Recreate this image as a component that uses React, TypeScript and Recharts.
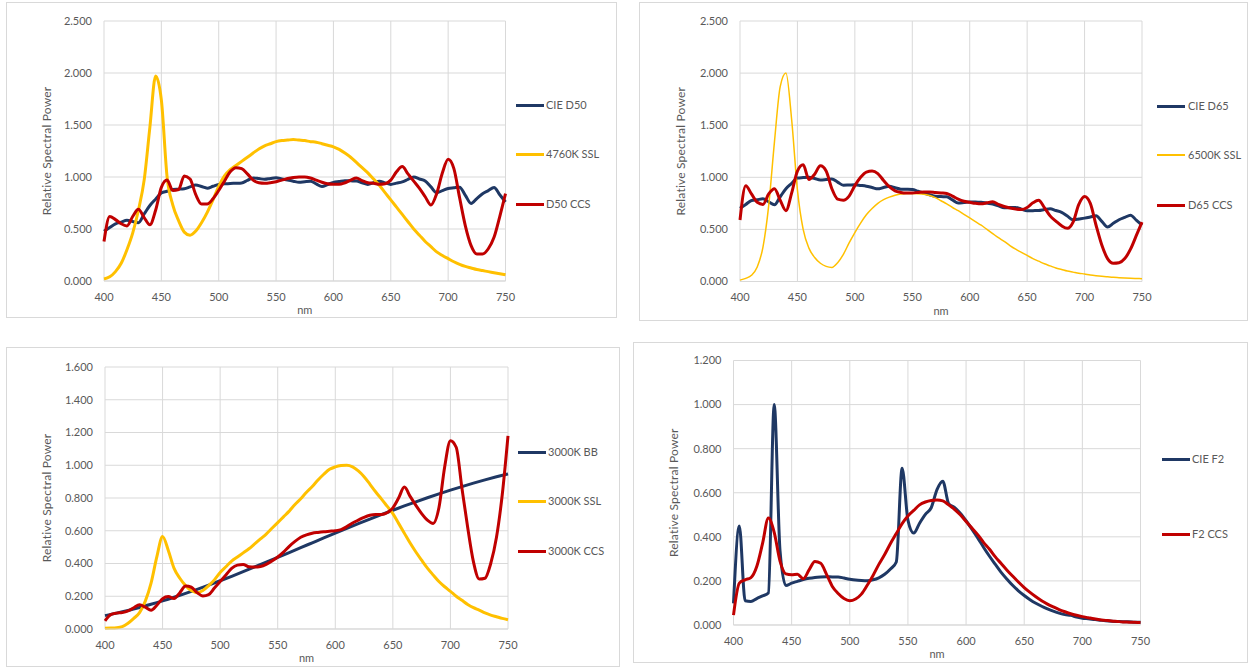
import React from 'react';
import { LineChart, Line, XAxis, YAxis, CartesianGrid } from 'recharts';

// wavelength grid (nm)
const wavelengths = [
  400, 405, 410, 415, 420, 425, 430, 435, 440, 445,
  450, 455, 460, 465, 470, 475, 480, 485, 490, 495,
  500, 505, 510, 515, 520, 525, 530, 535, 540, 545,
  550, 555, 560, 565, 570, 575, 580, 585, 590, 595,
  600, 605, 610, 615, 620, 625, 630, 635, 640, 645,
  650, 655, 660, 665, 670, 675, 680, 685, 690, 695,
  700, 705, 710, 715, 720, 725, 730, 735, 740, 745,
  750,
];
const bbWavelengths = [
  400, 410, 420, 430, 440, 450, 460, 470, 480, 490,
  500, 510, 520, 530, 540, 550, 560, 570, 580, 590,
  600, 610, 620, 630, 640, 650, 660, 670, 680, 690,
  700, 710, 720, 730, 740, 750,
];
const xTicks = [400, 450, 500, 550, 600, 650, 700, 750];

// top left: D50
const cieD50 = [
  0.479, 0.514, 0.549, 0.566, 0.583, 0.572, 0.561, 0.644, 0.726, 0.787,
  0.847, 0.863, 0.88, 0.883, 0.887, 0.905, 0.923, 0.908, 0.893, 0.911,
  0.929, 0.934, 0.938, 0.94, 0.943, 0.967, 0.991, 0.985, 0.978, 0.986,
  0.993, 0.982, 0.971, 0.96, 0.949, 0.955, 0.96, 0.934, 0.908, 0.928,
  0.948, 0.956, 0.964, 0.963, 0.962, 0.945, 0.929, 0.945, 0.96, 0.944,
  0.929, 0.941, 0.953, 0.977, 1.0, 0.981, 0.962, 0.905, 0.848, 0.869,
  0.889, 0.896, 0.902, 0.824, 0.746, 0.793, 0.84, 0.869, 0.899, 0.829,
  0.76,
];
const ssl4760 = [
  0.02, 0.04, 0.09, 0.17, 0.3, 0.46, 0.68, 0.97, 1.48, 1.97,
  1.74, 1.0, 0.73, 0.58, 0.47, 0.44, 0.48, 0.56, 0.66, 0.78,
  0.91, 1.01, 1.07, 1.11, 1.15, 1.19, 1.23, 1.27, 1.3, 1.32,
  1.34, 1.35, 1.355, 1.36, 1.355, 1.35, 1.34, 1.335, 1.32, 1.305,
  1.29, 1.265, 1.23, 1.19, 1.14, 1.09, 1.04, 0.98, 0.92, 0.85,
  0.78, 0.71, 0.64, 0.57, 0.5, 0.44, 0.38, 0.33, 0.28, 0.245,
  0.215, 0.185, 0.16, 0.14, 0.125, 0.11, 0.1, 0.09, 0.08, 0.07,
  0.06,
];
const d50Ccs = [
  0.38, 0.62, 0.59, 0.55, 0.53, 0.62, 0.69, 0.61, 0.54, 0.68,
  0.9, 0.97, 0.87, 0.88, 1.01, 0.98, 0.83, 0.74, 0.74, 0.79,
  0.87, 0.96, 1.05, 1.09, 1.08, 1.03, 0.97, 0.945, 0.94, 0.945,
  0.955, 0.97, 0.985, 0.995, 1.0, 1.0, 0.99, 0.97, 0.95, 0.935,
  0.93, 0.93, 0.945, 0.97, 0.99, 0.965, 0.945, 0.94, 0.93, 0.935,
  0.97, 1.05, 1.1, 1.03, 0.96, 0.89, 0.81, 0.73, 0.84, 1.04,
  1.17, 1.08, 0.8, 0.53, 0.34, 0.26, 0.26, 0.31, 0.42, 0.62,
  0.84,
];

// top right: D65
const cieD65 = [
  0.702, 0.74, 0.777, 0.785, 0.793, 0.764, 0.736, 0.813, 0.89, 0.942,
  0.993, 0.997, 1.0, 0.988, 0.975, 0.979, 0.984, 0.954, 0.924, 0.926,
  0.928, 0.922, 0.915, 0.902, 0.889, 0.902, 0.914, 0.9, 0.886, 0.885,
  0.883, 0.866, 0.849, 0.833, 0.818, 0.815, 0.813, 0.783, 0.753, 0.758,
  0.764, 0.762, 0.761, 0.752, 0.744, 0.726, 0.707, 0.709, 0.71, 0.695,
  0.679, 0.68, 0.681, 0.69, 0.698, 0.681, 0.664, 0.628, 0.592, 0.6,
  0.608, 0.619, 0.631, 0.577, 0.523, 0.558, 0.593, 0.615, 0.637, 0.589,
  0.54,
];
const ssl6500 = [
  0.013, 0.03, 0.06, 0.14, 0.33, 0.73, 1.34, 1.87, 2.0, 1.55,
  0.88, 0.5, 0.32, 0.23, 0.175, 0.145, 0.135, 0.18, 0.26, 0.37,
  0.47, 0.56, 0.64, 0.7, 0.75, 0.785, 0.81, 0.828, 0.84, 0.845,
  0.845, 0.843, 0.838, 0.825, 0.805, 0.775, 0.745, 0.71, 0.68, 0.645,
  0.61, 0.575, 0.54, 0.5, 0.46, 0.42, 0.385, 0.345, 0.31, 0.28,
  0.25, 0.22, 0.195, 0.17, 0.15, 0.13, 0.115, 0.1, 0.09, 0.08,
  0.072, 0.063, 0.056, 0.05, 0.045, 0.04, 0.037, 0.034, 0.031, 0.029,
  0.027,
];
const d65Ccs = [
  0.59, 0.92, 0.84, 0.76, 0.74, 0.84, 0.89, 0.78, 0.68, 0.85,
  1.06, 1.12, 0.98, 1.03, 1.11, 1.06, 0.89, 0.79, 0.78, 0.82,
  0.92, 1.0, 1.05, 1.06, 1.035, 0.97, 0.91, 0.87, 0.855, 0.85,
  0.85, 0.855, 0.86, 0.86, 0.855, 0.85, 0.845, 0.82, 0.79, 0.77,
  0.76, 0.75, 0.745, 0.755, 0.765, 0.74, 0.72, 0.705, 0.695, 0.69,
  0.71, 0.755, 0.78, 0.71, 0.63, 0.58, 0.535, 0.51, 0.57, 0.74,
  0.815, 0.75, 0.54, 0.35, 0.22, 0.175, 0.18, 0.22, 0.31, 0.44,
  0.57,
];

// bottom left: 3000K
const bb3000 = [
  0.0817, 0.0968, 0.1133, 0.1314, 0.1509, 0.1718, 0.1941, 0.2176, 0.2423, 0.2679,
  0.2946, 0.322, 0.3501, 0.3788, 0.4079, 0.4374, 0.467, 0.4968, 0.5264, 0.556,
  0.5854, 0.6144, 0.6429, 0.671, 0.6984, 0.7253, 0.7514, 0.7768, 0.8013, 0.825,
  0.8478, 0.8697, 0.8906, 0.9106, 0.9295, 0.9474,
];
const ssl3000 = [
  0.005, 0.006, 0.008, 0.015, 0.035, 0.065, 0.1, 0.17, 0.28, 0.44,
  0.565, 0.48, 0.37, 0.31, 0.265, 0.235, 0.222, 0.235, 0.265, 0.3,
  0.345, 0.38, 0.415, 0.44, 0.465, 0.49, 0.52, 0.55, 0.58, 0.615,
  0.65, 0.685, 0.72, 0.76, 0.795, 0.835, 0.87, 0.91, 0.945, 0.975,
  0.99, 0.998, 1.0, 0.99, 0.965, 0.93, 0.885, 0.838, 0.795, 0.75,
  0.705, 0.645, 0.585, 0.525, 0.47, 0.42, 0.372, 0.33, 0.29, 0.258,
  0.23, 0.2, 0.175, 0.15, 0.13, 0.115, 0.098, 0.085, 0.075, 0.065,
  0.057,
];
const ccs3000 = [
  0.05, 0.088, 0.097, 0.1, 0.11, 0.13, 0.148, 0.133, 0.114, 0.145,
  0.185, 0.198, 0.186, 0.222, 0.262, 0.255, 0.222, 0.202, 0.21, 0.25,
  0.29, 0.33, 0.37, 0.39, 0.394, 0.38, 0.378, 0.382, 0.395, 0.415,
  0.44, 0.47, 0.505, 0.535, 0.56, 0.575, 0.585, 0.59, 0.594, 0.597,
  0.6, 0.607, 0.625, 0.647, 0.665, 0.682, 0.695, 0.7, 0.7, 0.71,
  0.74, 0.8, 0.867, 0.81, 0.755, 0.705, 0.665, 0.645, 0.74, 0.99,
  1.15, 1.11, 0.86, 0.62, 0.41, 0.305, 0.31, 0.4, 0.56, 0.82,
  1.18,
];

// bottom right: F2
const cieF2 = [
  0.098, 0.449, 0.11, 0.107, 0.12, 0.132, 0.145, 1.0, 0.338, 0.179,
  0.19, 0.198, 0.206, 0.212, 0.216, 0.218, 0.219, 0.218, 0.218, 0.213,
  0.208, 0.204, 0.202, 0.201, 0.205, 0.214, 0.23, 0.254, 0.286, 0.711,
  0.476, 0.417, 0.462, 0.502, 0.532, 0.614, 0.652, 0.551, 0.533, 0.507,
  0.473, 0.435, 0.395, 0.353, 0.313, 0.276, 0.24, 0.209, 0.18, 0.155,
  0.134, 0.115, 0.099, 0.085, 0.073, 0.063, 0.054, 0.047, 0.044, 0.036,
  0.031, 0.028, 0.025, 0.022, 0.019, 0.017, 0.016, 0.015, 0.015, 0.013,
  0.013,
];
const f2Ccs = [
  0.045, 0.19, 0.205, 0.215, 0.265, 0.37, 0.485, 0.42, 0.29, 0.232,
  0.228, 0.23, 0.21, 0.25, 0.288, 0.28, 0.23, 0.175, 0.143, 0.12,
  0.11, 0.118, 0.14, 0.18, 0.225, 0.275, 0.32, 0.37, 0.415, 0.46,
  0.495, 0.52, 0.545, 0.558, 0.565, 0.567, 0.563, 0.545, 0.525, 0.5,
  0.47, 0.44, 0.41, 0.375, 0.345, 0.31, 0.28, 0.25, 0.222, 0.195,
  0.17, 0.148, 0.128, 0.11, 0.095, 0.082, 0.07, 0.06, 0.051, 0.044,
  0.038, 0.033, 0.028, 0.024, 0.021, 0.018, 0.016, 0.014, 0.013, 0.012,
  0.011,
];

const ticks2500 = [0, 0.5, 1, 1.5, 2, 2.5];
const ticks1600 = [0, 0.2, 0.4, 0.6, 0.8, 1, 1.2, 1.4, 1.6];
const ticks1200 = [0, 0.2, 0.4, 0.6, 0.8, 1, 1.2];

const NAVY = '#1F3864';
const GOLD = '#FFC000';
const RED = '#C00000';
const GRID = '#D9D9D9';
const TEXT = '#595959';
const FONT = 'Lato, "Open Sans", sans-serif';

type Series = { key: string; name: string; color: string; width: number; values: number[]; xs?: number[] };
type PanelProps = {
  box: { x: number; y: number; w: number; h: number };
  plot: { l: number; r: number; t: number; b: number };
  yTicks: number[];
  labelX: number;
  legend: { x0: number; text: number; ys: number[] };
  series: Series[];
};

function buildRows(series: Series[]) {
  return wavelengths.map((nm) => {
    const row: Record<string, number | null> = { nm };
    series.forEach((s) => {
      const xs = s.xs ?? wavelengths;
      const i = xs.indexOf(nm);
      row[s.key] = i >= 0 ? s.values[i] : null;
    });
    return row;
  });
}

const Y_AXIS_W = 60;
const X_AXIS_H = 33;

function Panel({ box, plot, yTicks, labelX, legend, series }: PanelProps) {
  const rows = buildRows(series);
  const margin = {
    top: plot.t - box.y,
    left: plot.l - box.x - Y_AXIS_W,
    right: box.x + box.w - plot.r,
    bottom: box.y + box.h - plot.b - X_AXIS_H,
  };
  const yMax = yTicks[yTicks.length - 1];
  return (
    <>
      <div
        style={{
          position: 'absolute', left: box.x, top: box.y, width: box.w, height: box.h,
          border: `1px solid ${GRID}`, boxSizing: 'border-box',
        }}
      />
      <div style={{ position: 'absolute', left: box.x, top: box.y }}>
        <LineChart width={box.w} height={box.h} data={rows} margin={margin}>
          <CartesianGrid stroke={GRID} strokeWidth={1} />
          <XAxis
            dataKey="nm"
            type="number"
            domain={[400, 750]}
            ticks={xTicks}
            height={X_AXIS_H}
            stroke={GRID}
            tickLine={false}
            tickSize={0}
            tickMargin={12}
            tick={{ fill: TEXT, fontSize: 11 }}
            label={{ value: 'nm', position: 'insideBottom', offset: 0, fill: TEXT, fontSize: 11 }}
          />
          <YAxis
            type="number"
            domain={[0, yMax]}
            ticks={yTicks}
            width={Y_AXIS_W}
            axisLine={false}
            tickLine={false}
            tickSize={0}
            tickMargin={12}
            tick={{ fill: TEXT, fontSize: 11 }}
            tickFormatter={(v: number) => v.toFixed(3)}
            label={{
              value: 'Relative Spectral Power',
              angle: -90,
              position: 'insideLeft',
              offset: labelX - box.x - margin.left,
              fill: TEXT,
              fontSize: 12,
              style: { textAnchor: 'middle', letterSpacing: 0.2 },
            }}
          />
          {series.map((s) => (
            <Line
              key={s.key}
              type="monotone"
              dataKey={s.key}
              name={s.name}
              stroke={s.color}
              strokeWidth={s.width}
              dot={false}
              activeDot={false}
              connectNulls
              isAnimationActive={false}
            />
          ))}
        </LineChart>
      </div>
      {series.map((s, i) => (
        <React.Fragment key={s.key + '-legend'}>
          <div
            style={{
              position: 'absolute', left: legend.x0, top: legend.ys[i] - s.width / 2,
              width: 28, height: s.width, background: s.color,
            }}
          />
          <div
            style={{
              position: 'absolute', left: legend.text, top: legend.ys[i] - 8,
              fontSize: 11, lineHeight: '16px', color: TEXT, whiteSpace: 'nowrap',
            }}
          >
            {s.name}
          </div>
        </React.Fragment>
      ))}
    </>
  );
}

export default function App() {
  return (
    <div
      style={{
        position: 'absolute', left: 0, top: 0, width: 1249, height: 668,
        background: '#fff', fontFamily: FONT, overflow: 'hidden',
      }}
    >
      <Panel
        box={{ x: 6, y: 2, w: 611, h: 316 }}
        plot={{ l: 104, r: 505.5, t: 21, b: 281 }}
        yTicks={ticks2500}
        labelX={47}
        legend={{ x0: 516, text: 546, ys: [105, 154, 204] }}
        series={[
          { key: 'd50', name: 'CIE D50', color: NAVY, width: 3, values: cieD50 },
          { key: 'ssl', name: '4760K SSL', color: GOLD, width: 3, values: ssl4760 },
          { key: 'ccs', name: 'D50 CCS', color: RED, width: 3, values: d50Ccs },
        ]}
      />
      <Panel
        box={{ x: 639, y: 2, w: 609, h: 319 }}
        plot={{ l: 740, r: 1142, t: 21, b: 281.5 }}
        yTicks={ticks2500}
        labelX={681}
        legend={{ x0: 1157, text: 1188, ys: [106, 155, 205] }}
        series={[
          { key: 'd65', name: 'CIE D65', color: NAVY, width: 3, values: cieD65 },
          { key: 'ssl', name: '6500K SSL', color: GOLD, width: 1.5, values: ssl6500 },
          { key: 'ccs', name: 'D65 CCS', color: RED, width: 3, values: d65Ccs },
        ]}
      />
      <Panel
        box={{ x: 6, y: 347, w: 614, h: 320 }}
        plot={{ l: 105, r: 508, t: 367, b: 629 }}
        yTicks={ticks1600}
        labelX={47}
        legend={{ x0: 518, text: 548, ys: [452, 501, 551] }}
        series={[
          { key: 'bb', name: '3000K BB', color: NAVY, width: 3, values: bb3000, xs: bbWavelengths },
          { key: 'ssl', name: '3000K SSL', color: GOLD, width: 3, values: ssl3000 },
          { key: 'ccs', name: '3000K CCS', color: RED, width: 3, values: ccs3000 },
        ]}
      />
      <Panel
        box={{ x: 633, y: 342, w: 615, h: 321 }}
        plot={{ l: 733.5, r: 1140.5, t: 360.5, b: 625 }}
        yTicks={ticks1200}
        labelX={674}
        legend={{ x0: 1162, text: 1192, ys: [459, 534] }}
        series={[
          { key: 'f2', name: 'CIE F2', color: NAVY, width: 3, values: cieF2 },
          { key: 'ccs', name: 'F2 CCS', color: RED, width: 3, values: f2Ccs },
        ]}
      />
    </div>
  );
}
